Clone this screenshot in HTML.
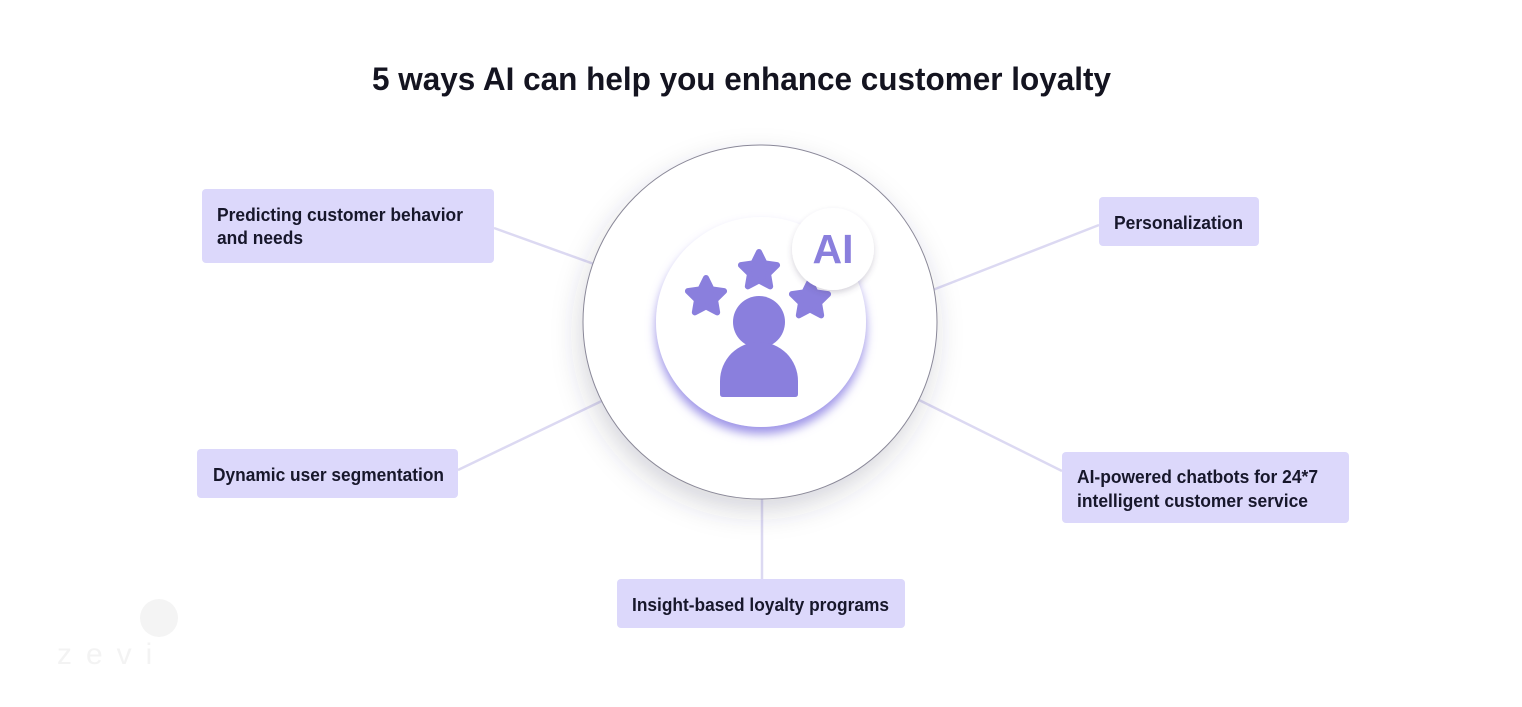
<!DOCTYPE html>
<html>
<head>
<meta charset="utf-8">
<style>
  html,body{margin:0;padding:0;background:#ffffff;}
  body{width:1522px;height:707px;overflow:hidden;}
  svg{display:block;}
  text{font-family:"Liberation Sans", sans-serif;}
</style>
</head>
<body>
<svg width="1522" height="707" viewBox="0 0 1522 707" xmlns="http://www.w3.org/2000/svg">
  <defs>
    <filter id="outerShadow" x="-30%" y="-30%" width="160%" height="170%">
      <feDropShadow dx="-3" dy="12" stdDeviation="14" flood-color="#3a3850" flood-opacity="0.2"/>
    </filter>
    <filter id="innerShadow" x="-30%" y="-30%" width="160%" height="170%">
      <feDropShadow dx="0" dy="7" stdDeviation="5" flood-color="#7d70e0" flood-opacity="0.75"/>
    </filter>
    <filter id="badgeShadow" x="-40%" y="-40%" width="180%" height="180%">
      <feDropShadow dx="0" dy="3" stdDeviation="3" flood-color="#4a4560" flood-opacity="0.22"/>
    </filter>
    <path id="star" d="M0,-19 L5.59,-7.69 L18.07,-5.87 L9.03,2.94 L11.17,15.37 L0,9.5 L-11.17,15.37 L-9.03,2.94 L-18.07,-5.87 L-5.59,-7.69 Z"/>
  </defs>

  <!-- Title -->
  <text x="372" y="90" font-size="32" font-weight="bold" fill="#141420" textLength="739" lengthAdjust="spacingAndGlyphs">5 ways AI can help you enhance customer loyalty</text>

  <!-- Connectors -->
  <g stroke="#dcd9f2" stroke-width="2.5" fill="none">
    <line x1="494" y1="228" x2="605" y2="268"/>
    <line x1="925" y1="293" x2="1099" y2="225"/>
    <line x1="915" y1="398" x2="1062" y2="471"/>
    <line x1="458" y1="470" x2="608" y2="398"/>
    <line x1="762" y1="490" x2="762" y2="579"/>
  </g>

  <!-- Outer circle -->
  <circle cx="760" cy="322" r="177" fill="#ffffff" filter="url(#outerShadow)"/>
  <circle cx="760" cy="322" r="177" fill="#ffffff" stroke="#8a8898" stroke-width="1"/>

  <!-- Inner circle -->
  <circle cx="761" cy="322" r="105" fill="#ffffff" filter="url(#innerShadow)"/>

  <!-- Stars -->
  <g fill="#8a7fdd" stroke="#8a7fdd" stroke-width="6" stroke-linejoin="round">
    <use href="#star" transform="translate(706,297)"/>
    <use href="#star" transform="translate(759,271)"/>
    <use href="#star" transform="translate(810,300)"/>
  </g>

  <!-- Person -->
  <circle cx="759" cy="322" r="26" fill="#8a7fdd"/>
  <path d="M720,394 L720,381 A39,39 0 0 1 798,381 L798,394 Q798,397 795,397 L723,397 Q720,397 720,394 Z" fill="#8a7fdd"/>

  <!-- AI badge -->
  <circle cx="833" cy="249" r="41" fill="#ffffff" filter="url(#badgeShadow)"/>
  <text x="833" y="263" font-size="41" font-weight="bold" fill="#8a7fdd" text-anchor="middle">AI</text>

  <!-- Boxes -->
  <g fill="#dcd8fb">
    <rect x="202" y="189" width="292" height="74" rx="4"/>
    <rect x="1099" y="197" width="160" height="49" rx="4"/>
    <rect x="1062" y="452" width="287" height="71" rx="4"/>
    <rect x="197" y="449" width="261" height="49" rx="4"/>
    <rect x="617" y="579" width="288" height="49" rx="4"/>
  </g>

  <g font-size="18" font-weight="bold" fill="#17172b">
    <text x="217" y="221" textLength="246" lengthAdjust="spacingAndGlyphs">Predicting customer behavior</text>
    <text x="217" y="244" textLength="86" lengthAdjust="spacingAndGlyphs">and needs</text>
    <text x="1114" y="229" textLength="129" lengthAdjust="spacingAndGlyphs">Personalization</text>
    <text x="1077" y="483" textLength="241" lengthAdjust="spacingAndGlyphs">AI-powered chatbots for 24*7</text>
    <text x="1077" y="507" textLength="231" lengthAdjust="spacingAndGlyphs">intelligent customer service</text>
    <text x="213" y="481" textLength="231" lengthAdjust="spacingAndGlyphs">Dynamic user segmentation</text>
    <text x="632" y="611" textLength="257" lengthAdjust="spacingAndGlyphs">Insight-based loyalty programs</text>
  </g>

  <!-- faint logo -->
  <circle cx="159" cy="618" r="19" fill="#f4f4f4"/>
  <text x="57" y="664" font-size="30" fill="#f3f3f3" letter-spacing="14">zevi</text>
</svg>
</body>
</html>
